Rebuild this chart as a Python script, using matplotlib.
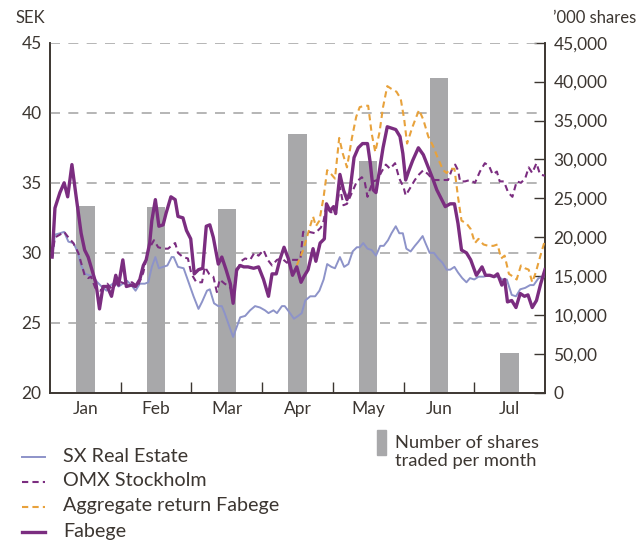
import matplotlib
matplotlib.use('Agg')
import matplotlib.pyplot as plt
from matplotlib.lines import Line2D
from matplotlib.patches import Rectangle

plt.rcParams['font.family'] = ['Lato', 'DejaVu Sans']

TXT = '#3c3631'
PURPLE = '#7b2d80'
ORANGE = '#e8a23c'
LAVENDER = '#8d93c9'
BARGREY = '#a8a8aa'
GRID = '#a9a9a9'

months = ['Jan', 'Feb', 'Mar', 'Apr', 'May', 'Jun', 'Jul']
shares_k = [24.0, 23.9, 23.6, 33.3, 29.8, 40.4, 5.1]   # '000 shares per month

# x = position in months (0 = start of Jan), y = SEK
fabege_x = [0.03, 0.07, 0.14, 0.20, 0.25, 0.31, 0.37, 0.44, 0.49, 0.54, 0.61, 0.65, 0.70, 0.75,
            0.81, 0.87, 0.93, 0.97, 1.03, 1.08, 1.15, 1.21, 1.27, 1.32, 1.36, 1.41, 1.44, 1.49,
            1.54, 1.60, 1.64, 1.71, 1.77, 1.81, 1.88, 1.93, 1.99, 2.04, 2.10, 2.16, 2.21, 2.26,
            2.31, 2.38, 2.43, 2.49, 2.55, 2.59, 2.64, 2.69, 2.74, 2.80, 2.88, 2.95, 3.02, 3.09,
            3.14, 3.20, 3.25, 3.31, 3.37, 3.43, 3.49, 3.55, 3.59, 3.65, 3.72, 3.76, 3.82, 3.88,
            3.91, 3.96, 4.01, 4.04, 4.10, 4.15, 4.20, 4.24, 4.30, 4.36, 4.42, 4.49, 4.53, 4.57,
            4.61, 4.66, 4.71, 4.77, 4.83, 4.89, 4.95, 4.99, 5.03, 5.07, 5.13, 5.21, 5.28, 5.35,
            5.42, 5.47, 5.52, 5.59, 5.66, 5.72, 5.77, 5.82, 5.89, 5.95, 6.03, 6.11, 6.16, 6.22,
            6.28, 6.33, 6.39, 6.43, 6.47, 6.53, 6.59, 6.65, 6.71, 6.76, 6.82, 6.88, 6.94, 7.00]
fabege_y = [29.7, 33.2, 34.3, 35.0, 34.0, 36.3, 34.0, 31.4, 30.2, 29.7, 28.5, 27.8, 26.0, 27.6,
            27.6, 26.9, 28.4, 27.7, 29.5, 27.6, 27.7, 27.6, 28.1, 29.1, 29.5, 30.7, 32.3, 33.8,
            31.9, 32.0, 32.8, 34.0, 33.8, 32.6, 32.5, 31.6, 31.0, 28.5, 28.8, 28.9, 31.9, 32.0,
            31.1, 29.2, 29.7, 28.8, 27.8, 26.4, 28.8, 29.1, 29.0, 29.0, 28.9, 29.0, 28.1, 26.9,
            28.5, 28.5, 29.5, 30.4, 29.6, 28.4, 29.0, 27.9, 28.3, 28.8, 30.3, 29.4, 30.7, 31.0,
            33.5, 33.0, 33.3, 32.8, 35.6, 34.5, 33.8, 34.3, 36.8, 37.5, 37.8, 37.8, 36.4, 34.5,
            34.3, 35.9, 37.5, 39.0, 38.9, 38.8, 38.3, 37.1, 35.2, 35.8, 36.6, 37.5, 37.0, 36.1,
            35.2, 34.5, 34.0, 33.3, 33.5, 33.5, 32.1, 30.2, 30.0, 29.5, 28.4, 29.0, 28.4, 28.4,
            28.3, 28.5, 27.7, 28.1, 26.5, 26.6, 26.1, 27.1, 26.9, 27.0, 26.1, 26.6, 27.8, 28.8]

omx_x = [0.03, 0.07, 0.14, 0.20, 0.26, 0.33, 0.40, 0.44, 0.49, 0.54, 0.58, 0.64, 0.71, 0.81,
         0.88, 0.96, 1.06, 1.16, 1.24, 1.32, 1.39, 1.47, 1.53, 1.60, 1.67, 1.74, 1.77, 1.81,
         1.88, 1.95, 2.00, 2.07, 2.15, 2.19, 2.25, 2.31, 2.36, 2.40, 2.47, 2.54, 2.59, 2.64,
         2.70, 2.76, 2.83, 2.89, 2.95, 3.02, 3.08, 3.14, 3.21, 3.28, 3.35, 3.42, 3.49, 3.54,
         3.58, 3.66, 3.75, 3.83, 3.87, 3.91, 3.97, 4.03, 4.06, 4.10, 4.15, 4.20, 4.27, 4.34,
         4.41, 4.45, 4.49, 4.53, 4.57, 4.63, 4.69, 4.75, 4.81, 4.88, 4.94, 5.00, 5.03, 5.09,
         5.16, 5.22, 5.28, 5.35, 5.42, 5.52, 5.63, 5.68, 5.73, 5.77, 5.80, 5.87, 5.94, 6.01,
         6.08, 6.15, 6.21, 6.26, 6.32, 6.36, 6.42, 6.48, 6.54, 6.60, 6.66, 6.72, 6.77, 6.82,
         6.88, 6.93, 7.00]
omx_y = [29.7, 31.1, 31.3, 31.5, 31.1, 30.7, 30.0, 29.3, 28.4, 28.2, 28.3, 27.5, 27.3, 27.8,
         27.4, 28.0, 27.8, 27.9, 27.6, 28.6, 30.2, 30.9, 30.4, 30.3, 30.3, 30.6, 30.7, 30.0,
         29.7, 29.6, 28.5, 27.9, 27.9, 29.0, 28.5, 28.3, 27.2, 28.1, 27.8, 27.6, 27.1, 28.6,
         29.4, 29.6, 29.5, 30.0, 29.8, 30.2, 29.5, 29.1, 29.5, 29.6, 29.3, 29.5, 29.5, 29.5,
         31.5, 31.5, 31.4, 31.8, 32.3, 33.4, 32.9, 32.9, 33.5, 34.7, 33.4, 33.5, 34.3, 35.1,
         35.4, 35.1, 34.0, 34.6, 35.1, 35.2, 35.8, 36.3, 36.0, 36.4, 35.3, 34.7, 34.1, 34.6,
         35.2, 35.6, 35.9, 35.6, 35.2, 35.2, 35.2, 35.9, 36.3, 35.9, 35.1, 35.1, 35.2, 35.0,
         35.8, 36.4, 36.2, 35.6, 35.8, 35.1, 35.1, 34.3, 34.0, 35.1, 35.0, 35.3, 36.1, 35.7,
         36.4, 35.6, 35.5]

aggr_x = [3.49, 3.58, 3.65, 3.72, 3.76, 3.81, 3.87, 3.92, 3.98, 4.03, 4.09, 4.14, 4.20, 4.27,
          4.33, 4.38, 4.45, 4.50, 4.55, 4.60, 4.66, 4.71, 4.77, 4.83, 4.90, 4.96, 5.01, 5.05,
          5.12, 5.18, 5.22, 5.28, 5.35, 5.42, 5.49, 5.56, 5.61, 5.66, 5.72, 5.77, 5.82, 5.89,
          5.95, 6.01, 6.06, 6.13, 6.20, 6.27, 6.33, 6.38, 6.43, 6.49, 6.55, 6.60, 6.66, 6.72,
          6.77, 6.82, 6.87, 6.93, 7.00]
aggr_y = [29.1, 30.2, 31.4, 32.6, 31.9, 32.3, 34.0, 35.9, 35.6, 35.3, 38.2, 37.1, 36.1, 38.2,
          39.7, 40.4, 40.5, 40.5, 38.5, 37.2, 38.6, 40.4, 41.9, 41.7, 41.5, 41.0, 39.5, 37.8,
          38.9, 39.7, 40.2, 39.5, 38.3, 37.6, 36.7, 35.9, 35.7, 36.0, 36.0, 34.0, 32.3, 32.1,
          31.7, 30.7, 31.0, 30.6, 30.5, 30.5, 30.6, 29.6, 29.8, 28.5, 28.3, 28.1, 29.1, 28.9,
          28.8, 27.9, 28.6, 29.7, 30.9]

sx_x = [0.03, 0.07, 0.14, 0.20, 0.26, 0.33, 0.39, 0.44, 0.50, 0.56, 0.61, 0.67, 0.73, 0.80,
        0.86, 0.92, 0.97, 1.03, 1.09, 1.15, 1.21, 1.27, 1.34, 1.39, 1.44, 1.49, 1.54, 1.60,
        1.66, 1.72, 1.75, 1.81, 1.89, 1.96, 2.03, 2.10, 2.15, 2.22, 2.26, 2.32, 2.38, 2.43,
        2.47, 2.54, 2.59, 2.64, 2.69, 2.76, 2.83, 2.90, 2.97, 3.04, 3.09, 3.16, 3.21, 3.28,
        3.32, 3.38, 3.45, 3.51, 3.56, 3.61, 3.68, 3.75, 3.81, 3.87, 3.92, 3.98, 4.03, 4.10,
        4.16, 4.22, 4.28, 4.34, 4.38, 4.43, 4.49, 4.55, 4.61, 4.67, 4.72, 4.78, 4.83, 4.89,
        4.94, 4.99, 5.04, 5.10, 5.16, 5.21, 5.27, 5.31, 5.37, 5.43, 5.49, 5.55, 5.61, 5.66,
        5.72, 5.77, 5.83, 5.89, 5.94, 6.00, 6.06, 6.13, 6.21, 6.28, 6.34, 6.40, 6.46, 6.53,
        6.59, 6.65, 6.72, 6.79, 6.84, 6.91, 6.98]
sx_y = [29.7, 31.3, 31.4, 31.5, 30.8, 30.7, 30.1, 29.1, 28.5, 28.4, 28.3, 27.9, 27.6, 27.3,
        27.7, 27.9, 27.6, 27.8, 28.0, 27.7, 27.3, 27.8, 27.8, 27.9, 29.0, 29.7, 28.9, 29.0,
        29.1, 29.7, 29.7, 29.0, 28.9, 27.9, 26.9, 26.0, 26.5, 27.3, 27.4, 26.4, 26.2, 26.2,
        25.7, 24.7, 24.0, 24.7, 25.4, 25.5, 25.9, 26.2, 26.1, 25.9, 25.7, 25.9, 25.7, 26.2,
        26.2, 25.8, 25.3, 25.5, 25.7, 26.6, 26.9, 26.9, 27.3, 28.1, 29.2, 29.0, 28.9, 29.7,
        29.0, 29.2, 30.1, 30.4, 30.4, 30.7, 30.3, 30.2, 29.8, 30.5, 30.5, 30.9, 31.4, 31.9,
        31.4, 31.4, 30.3, 30.1, 30.5, 30.8, 31.2, 30.7, 30.0, 30.0, 29.6, 29.3, 28.8, 28.8,
        29.0, 28.6, 28.2, 27.9, 28.2, 28.1, 28.3, 28.3, 28.4, 28.3, 28.3, 28.1, 28.1, 27.0,
        26.9, 27.4, 27.5, 27.7, 27.7, 28.2, 28.3]

fig = plt.figure(figsize=(6.37, 5.41), dpi=100)
ax = fig.add_axes([0.0785, 0.2736, 0.777, 0.6475])
axr = ax.twinx()
ax.set_zorder(axr.get_zorder() + 1)
ax.patch.set_visible(False)

# bars on the right ('000 shares) axis
bar_x = [i + 0.5 for i in range(len(months))]
axr.bar(bar_x, [v * 1000 for v in shares_k], width=0.26, color=BARGREY, zorder=1)
axr.set_ylim(0, 45000)
axr.set_yticks(range(0, 45001, 5000))
axr.set_yticklabels(['0', '50,00', '10,000', '15,000', '20,000', '25,000',
                     '30,000', '35,000', '40,000', '45,000'])
axr.tick_params(axis='y', direction='in', length=8, width=1, color=TXT,
                labelsize=12.5, labelcolor=TXT, pad=6)

# lines on the left (SEK) axis
ax.plot(sx_x, sx_y, color=LAVENDER, lw=1.4, zorder=3)
ax.plot(omx_x, omx_y, color=PURPLE, lw=1.5, dashes=(3, 2), zorder=4)
ax.plot(aggr_x, aggr_y, color=ORANGE, lw=1.5, dashes=(3, 2), zorder=4)
ax.plot(fabege_x, fabege_y, color=PURPLE, lw=2.4, zorder=5)

ax.set_xlim(0, 7)
ax.set_ylim(20, 45)
ax.set_yticks([20, 25, 30, 35, 40, 45])
for g in [25, 30, 35, 40, 45]:
    ax.axhline(g, color=GRID, lw=1.2, dashes=(6, 5), zorder=2)
ax.tick_params(axis='y', length=0, labelsize=12.5, labelcolor=TXT, pad=6)
ax.set_xticks(bar_x)
ax.set_xticklabels(months)
ax.set_xticks(range(1, 7), minor=True)
ax.tick_params(axis='x', which='major', length=0, labelsize=12.5, labelcolor=TXT, pad=6)
ax.tick_params(axis='x', which='minor', direction='in', length=8, width=1, color=TXT)

for a in (ax, axr):
    a.spines['top'].set_visible(False)
    for s in ('left', 'right', 'bottom'):
        a.spines[s].set_color(TXT)
        a.spines[s].set_linewidth(1.2)

fig.text(15 / 637, 1 - 18 / 541, 'SEK', fontsize=12, color=TXT, va='center', ha='left')
fig.text(636 / 637, 1 - 18 / 541, '\u2019000 shares', fontsize=12, color=TXT, va='center', ha='right')

# legend
leg = [('SX Real Estate', LAVENDER, 1.4, None),
       ('OMX Stockholm', PURPLE, 1.5, (3, 2)),
       ('Aggregate return Fabege', ORANGE, 1.5, (3, 2)),
       ('Fabege', PURPLE, 2.4, None)]
for i, (lab, col, lw, ds) in enumerate(leg):
    yy = 1 - (457 + i * 25) / 541
    ln = Line2D([22 / 637, 45 / 637], [yy, yy], transform=fig.transFigure, color=col, lw=lw)
    if ds:
        ln.set_dashes(ds)
    fig.add_artist(ln)
    fig.text(63 / 637, yy + 1 / 541, lab, fontsize=14.2, color=TXT, va='center', ha='left')

fig.add_artist(Rectangle((377 / 637, 1 - 455 / 541), 9 / 637, 25 / 541,
                         transform=fig.transFigure, color=BARGREY))
fig.text(395 / 637, 1 - 452 / 541, 'Number of shares\ntraded per month', fontsize=13.2,
         color=TXT, va='center', ha='left', linespacing=1.2)

fig.savefig('out.png', dpi=100)
